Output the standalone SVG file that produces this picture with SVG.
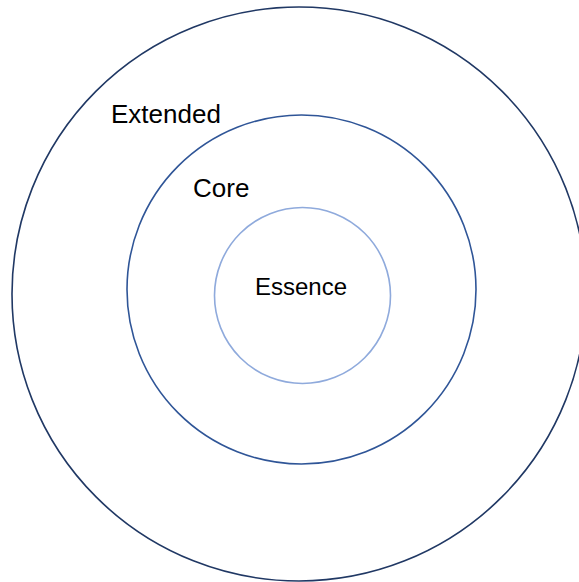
<svg xmlns="http://www.w3.org/2000/svg" width="579" height="582" viewBox="0 0 579 582">
<style>
.ring{fill:none;stroke-width:1.6}
.lbl{font-family:"Liberation Sans",Arial,sans-serif;fill:#000}
</style>
<rect width="579" height="582" fill="#fff"/>
<g id="extended">
<circle class="ring" cx="299" cy="294" r="287" stroke="#203864"/>
<text class="lbl" x="111" y="123" font-size="26">Extended</text>
</g>
<g id="core">
<circle class="ring" cx="301.5" cy="289.5" r="174.5" stroke="#2F5597"/>
<text class="lbl" x="193" y="197" font-size="26">Core</text>
</g>
<g id="essence">
<circle class="ring" cx="302.5" cy="295.5" r="88" stroke="#8FAADC"/>
<text class="lbl" x="301" y="295" font-size="24" text-anchor="middle">Essence</text>
</g>
<g id="connectors"/>
</svg>
